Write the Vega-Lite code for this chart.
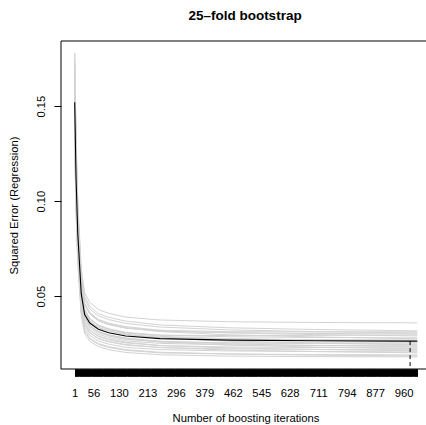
{
  "$schema": "https://vega.github.io/schema/vega-lite/v6.json",
  "autosize": {"type": "none"},
  "padding": {"left": 61, "top": 41, "right": 0, "bottom": 56},
  "width": 365,
  "height": 328,
  "title": {"text": "25–fold bootstrap", "font": "Liberation Sans", "fontSize": 13.5, "fontWeight": "bold", "color": "black", "anchor": "middle", "baseline": "alphabetic", "offset": 7, "dx": 1.5},
  "config": {
    "view": {"stroke": null},
    "axis": {"grid": false, "domain": false, "tickColor": "black", "labelColor": "black", "titleColor": "black", "labelFont": "Liberation Sans", "titleFont": "Liberation Sans", "labelFontSize": 11.25, "titleFontSize": 11.25, "titleFontWeight": "normal", "tickWidth": 1}
  },
  "resolve": {"axis": {"x": "independent"}},
  "datasets": {
    "cv": [
      {"it": 1, "mean": 0.1520, "b01": 0.1780, "b02": 0.1779, "b03": 0.1728, "b04": 0.1737, "b05": 0.1696, "b06": 0.1655, "b07": 0.1674, "b08": 0.1633, "b09": 0.1642, "b10": 0.1591, "b11": 0.1590, "b12": 0.1539, "b13": 0.1528, "b14": 0.1537, "b15": 0.1486, "b16": 0.1485, "b17": 0.1444, "b18": 0.1453, "b19": 0.1402, "b20": 0.1401, "b21": 0.1360, "b22": 0.1359, "b23": 0.1318, "b24": 0.1307, "b25": 0.1276},
      {"it": 5, "mean": 0.1117, "b01": 0.1325, "b02": 0.1317, "b03": 0.1271, "b04": 0.1285, "b05": 0.1249, "b06": 0.1213, "b07": 0.1237, "b08": 0.1200, "b09": 0.1214, "b10": 0.1168, "b11": 0.1170, "b12": 0.1124, "b13": 0.1118, "b14": 0.1132, "b15": 0.1086, "b16": 0.1090, "b17": 0.1054, "b18": 0.1068, "b19": 0.1022, "b20": 0.1027, "b21": 0.0990, "b22": 0.0995, "b23": 0.0957, "b24": 0.0951, "b25": 0.0925},
      {"it": 10, "mean": 0.0828, "b01": 0.0998, "b02": 0.0985, "b03": 0.0943, "b04": 0.0960, "b05": 0.0928, "b06": 0.0896, "b07": 0.0923, "b08": 0.0888, "b09": 0.0906, "b10": 0.0863, "b11": 0.0868, "b12": 0.0826, "b13": 0.0823, "b14": 0.0841, "b15": 0.0799, "b16": 0.0807, "b17": 0.0774, "b18": 0.0792, "b19": 0.0750, "b20": 0.0758, "b21": 0.0725, "b22": 0.0733, "b23": 0.0697, "b24": 0.0695, "b25": 0.0673},
      {"it": 20, "mean": 0.0514, "b01": 0.0642, "b02": 0.0625, "b03": 0.0586, "b04": 0.0607, "b05": 0.0579, "b06": 0.0551, "b07": 0.0582, "b08": 0.0550, "b09": 0.0572, "b10": 0.0533, "b11": 0.0540, "b12": 0.0502, "b13": 0.0503, "b14": 0.0525, "b15": 0.0487, "b16": 0.0499, "b17": 0.0470, "b18": 0.0491, "b19": 0.0453, "b20": 0.0465, "b21": 0.0436, "b22": 0.0448, "b23": 0.0415, "b24": 0.0417, "b25": 0.0398},
      {"it": 30, "mean": 0.0403, "b01": 0.0517, "b02": 0.0498, "b03": 0.0461, "b04": 0.0483, "b05": 0.0456, "b06": 0.0430, "b07": 0.0462, "b08": 0.0431, "b09": 0.0454, "b10": 0.0416, "b11": 0.0425, "b12": 0.0388, "b13": 0.0390, "b14": 0.0414, "b15": 0.0377, "b16": 0.0390, "b17": 0.0362, "b18": 0.0386, "b19": 0.0349, "b20": 0.0362, "b21": 0.0334, "b22": 0.0348, "b23": 0.0315, "b24": 0.0319, "b25": 0.0302},
      {"it": 45, "mean": 0.0358, "b01": 0.0466, "b02": 0.0446, "b03": 0.0409, "b04": 0.0432, "b05": 0.0406, "b06": 0.0380, "b07": 0.0413, "b08": 0.0382, "b09": 0.0406, "b10": 0.0369, "b11": 0.0378, "b12": 0.0341, "b13": 0.0344, "b14": 0.0368, "b15": 0.0332, "b16": 0.0346, "b17": 0.0319, "b18": 0.0342, "b19": 0.0306, "b20": 0.0320, "b21": 0.0293, "b22": 0.0307, "b23": 0.0275, "b24": 0.0279, "b25": 0.0262},
      {"it": 70, "mean": 0.0325, "b01": 0.0429, "b02": 0.0408, "b03": 0.0372, "b04": 0.0396, "b05": 0.0370, "b06": 0.0344, "b07": 0.0377, "b08": 0.0347, "b09": 0.0371, "b10": 0.0334, "b11": 0.0344, "b12": 0.0308, "b13": 0.0311, "b14": 0.0335, "b15": 0.0299, "b16": 0.0314, "b17": 0.0287, "b18": 0.0311, "b19": 0.0275, "b20": 0.0290, "b21": 0.0263, "b22": 0.0277, "b23": 0.0245, "b24": 0.0250, "b25": 0.0234},
      {"it": 100, "mean": 0.0307, "b01": 0.0409, "b02": 0.0388, "b03": 0.0352, "b04": 0.0376, "b05": 0.0350, "b06": 0.0325, "b07": 0.0358, "b08": 0.0328, "b09": 0.0352, "b10": 0.0316, "b11": 0.0325, "b12": 0.0290, "b13": 0.0293, "b14": 0.0318, "b15": 0.0282, "b16": 0.0296, "b17": 0.0270, "b18": 0.0294, "b19": 0.0259, "b20": 0.0273, "b21": 0.0247, "b22": 0.0261, "b23": 0.0230, "b24": 0.0234, "b25": 0.0218},
      {"it": 150, "mean": 0.0290, "b01": 0.0389, "b02": 0.0368, "b03": 0.0332, "b04": 0.0356, "b05": 0.0331, "b06": 0.0305, "b07": 0.0339, "b08": 0.0309, "b09": 0.0333, "b10": 0.0297, "b11": 0.0307, "b12": 0.0272, "b13": 0.0275, "b14": 0.0300, "b15": 0.0264, "b16": 0.0279, "b17": 0.0253, "b18": 0.0277, "b19": 0.0242, "b20": 0.0257, "b21": 0.0230, "b22": 0.0245, "b23": 0.0214, "b24": 0.0218, "b25": 0.0203},
      {"it": 250, "mean": 0.0276, "b01": 0.0374, "b02": 0.0348, "b03": 0.0319, "b04": 0.0337, "b05": 0.0315, "b06": 0.0294, "b07": 0.0320, "b08": 0.0294, "b09": 0.0313, "b10": 0.0283, "b11": 0.0288, "b12": 0.0259, "b13": 0.0261, "b14": 0.0280, "b15": 0.0251, "b16": 0.0262, "b17": 0.0239, "b18": 0.0258, "b19": 0.0229, "b20": 0.0240, "b21": 0.0218, "b22": 0.0229, "b23": 0.0201, "b24": 0.0204, "b25": 0.0191},
      {"it": 450, "mean": 0.0268, "b01": 0.0365, "b02": 0.0333, "b03": 0.0313, "b04": 0.0322, "b05": 0.0307, "b06": 0.0292, "b07": 0.0306, "b08": 0.0286, "b09": 0.0296, "b10": 0.0275, "b11": 0.0275, "b12": 0.0254, "b13": 0.0253, "b14": 0.0263, "b15": 0.0243, "b16": 0.0248, "b17": 0.0232, "b18": 0.0242, "b19": 0.0222, "b20": 0.0227, "b21": 0.0211, "b22": 0.0216, "b23": 0.0195, "b24": 0.0195, "b25": 0.0184},
      {"it": 700, "mean": 0.0265, "b01": 0.0361, "b02": 0.0324, "b03": 0.0311, "b04": 0.0313, "b05": 0.0303, "b06": 0.0293, "b07": 0.0297, "b08": 0.0282, "b09": 0.0285, "b10": 0.0271, "b11": 0.0266, "b12": 0.0253, "b13": 0.0250, "b14": 0.0253, "b15": 0.0240, "b16": 0.0240, "b17": 0.0229, "b18": 0.0232, "b19": 0.0219, "b20": 0.0219, "b21": 0.0208, "b22": 0.0208, "b23": 0.0192, "b24": 0.0189, "b25": 0.0181},
      {"it": 1000, "mean": 0.0263, "b01": 0.0359, "b02": 0.0317, "b03": 0.0312, "b04": 0.0306, "b05": 0.0301, "b06": 0.0296, "b07": 0.0290, "b08": 0.0280, "b09": 0.0275, "b10": 0.0269, "b11": 0.0259, "b12": 0.0254, "b13": 0.0248, "b14": 0.0243, "b15": 0.0238, "b16": 0.0233, "b17": 0.0227, "b18": 0.0222, "b19": 0.0217, "b20": 0.0212, "b21": 0.0206, "b22": 0.0201, "b23": 0.0190, "b24": 0.0185, "b25": 0.0180}
    ],
    "opt": [{"mstop": 979, "risk": 0.0263}]
  },
  "layer": [
    {
      "data": {"name": "cv"},
      "transform": [{"fold": ["b01","b02","b03","b04","b05","b06","b07","b08","b09","b10","b11","b12","b13","b14","b15","b16","b17","b18","b19","b20","b21","b22","b23","b24","b25"], "as": ["fold", "risk"]}],
      "mark": {"type": "line", "color": "#d3d3d3", "strokeWidth": 1},
      "encoding": {
        "x": {"field": "it", "type": "quantitative", "scale": {"domain": [-38.96, 1025.37], "nice": false, "zero": false},
          "axis": {"orient": "bottom", "tickSize": 7, "labelPadding": 11, "labelOverlap": false, "labelFlush": false, "labelBound": false,
            "labelExpr": "indexof([1,56,130,213,296,379,462,545,628,711,794,877,960], datum.value) >= 0 ? datum.label : ''",
            "title": "Number of boosting iterations", "titleX": 184.5, "titleY": 52, "titleBaseline": "alphabetic",
            "values": [1,2,3,4,5,6,7,8,9,10,11,12,13,14,15,16,17,18,19,20,21,22,23,24,25,26,27,28,29,30,31,32,33,34,35,36,37,38,39,40,41,42,43,44,45,46,47,48,49,50,51,52,53,54,55,56,57,58,59,60,61,62,63,64,65,66,67,68,69,70,71,72,73,74,75,76,77,78,79,80,81,82,83,84,85,86,87,88,89,90,91,92,93,94,95,96,97,98,99,100,101,102,103,104,105,106,107,108,109,110,111,112,113,114,115,116,117,118,119,120,121,122,123,124,125,126,127,128,129,130,131,132,133,134,135,136,137,138,139,140,141,142,143,144,145,146,147,148,149,150,151,152,153,154,155,156,157,158,159,160,161,162,163,164,165,166,167,168,169,170,171,172,173,174,175,176,177,178,179,180,181,182,183,184,185,186,187,188,189,190,191,192,193,194,195,196,197,198,199,200,201,202,203,204,205,206,207,208,209,210,211,212,213,214,215,216,217,218,219,220,221,222,223,224,225,226,227,228,229,230,231,232,233,234,235,236,237,238,239,240,241,242,243,244,245,246,247,248,249,250,251,252,253,254,255,256,257,258,259,260,261,262,263,264,265,266,267,268,269,270,271,272,273,274,275,276,277,278,279,280,281,282,283,284,285,286,287,288,289,290,291,292,293,294,295,296,297,298,299,300,301,302,303,304,305,306,307,308,309,310,311,312,313,314,315,316,317,318,319,320,321,322,323,324,325,326,327,328,329,330,331,332,333,334,335,336,337,338,339,340,341,342,343,344,345,346,347,348,349,350,351,352,353,354,355,356,357,358,359,360,361,362,363,364,365,366,367,368,369,370,371,372,373,374,375,376,377,378,379,380,381,382,383,384,385,386,387,388,389,390,391,392,393,394,395,396,397,398,399,400,401,402,403,404,405,406,407,408,409,410,411,412,413,414,415,416,417,418,419,420,421,422,423,424,425,426,427,428,429,430,431,432,433,434,435,436,437,438,439,440,441,442,443,444,445,446,447,448,449,450,451,452,453,454,455,456,457,458,459,460,461,462,463,464,465,466,467,468,469,470,471,472,473,474,475,476,477,478,479,480,481,482,483,484,485,486,487,488,489,490,491,492,493,494,495,496,497,498,499,500,501,502,503,504,505,506,507,508,509,510,511,512,513,514,515,516,517,518,519,520,521,522,523,524,525,526,527,528,529,530,531,532,533,534,535,536,537,538,539,540,541,542,543,544,545,546,547,548,549,550,551,552,553,554,555,556,557,558,559,560,561,562,563,564,565,566,567,568,569,570,571,572,573,574,575,576,577,578,579,580,581,582,583,584,585,586,587,588,589,590,591,592,593,594,595,596,597,598,599,600,601,602,603,604,605,606,607,608,609,610,611,612,613,614,615,616,617,618,619,620,621,622,623,624,625,626,627,628,629,630,631,632,633,634,635,636,637,638,639,640,641,642,643,644,645,646,647,648,649,650,651,652,653,654,655,656,657,658,659,660,661,662,663,664,665,666,667,668,669,670,671,672,673,674,675,676,677,678,679,680,681,682,683,684,685,686,687,688,689,690,691,692,693,694,695,696,697,698,699,700,701,702,703,704,705,706,707,708,709,710,711,712,713,714,715,716,717,718,719,720,721,722,723,724,725,726,727,728,729,730,731,732,733,734,735,736,737,738,739,740,741,742,743,744,745,746,747,748,749,750,751,752,753,754,755,756,757,758,759,760,761,762,763,764,765,766,767,768,769,770,771,772,773,774,775,776,777,778,779,780,781,782,783,784,785,786,787,788,789,790,791,792,793,794,795,796,797,798,799,800,801,802,803,804,805,806,807,808,809,810,811,812,813,814,815,816,817,818,819,820,821,822,823,824,825,826,827,828,829,830,831,832,833,834,835,836,837,838,839,840,841,842,843,844,845,846,847,848,849,850,851,852,853,854,855,856,857,858,859,860,861,862,863,864,865,866,867,868,869,870,871,872,873,874,875,876,877,878,879,880,881,882,883,884,885,886,887,888,889,890,891,892,893,894,895,896,897,898,899,900,901,902,903,904,905,906,907,908,909,910,911,912,913,914,915,916,917,918,919,920,921,922,923,924,925,926,927,928,929,930,931,932,933,934,935,936,937,938,939,940,941,942,943,944,945,946,947,948,949,950,951,952,953,954,955,956,957,958,959,960,961,962,963,964,965,966,967,968,969,970,971,972,973,974,975,976,977,978,979,980,981,982,983,984,985,986,987,988,989,990,991,992,993,994,995,996,997,998,999,1000]}},
        "y": {"field": "risk", "type": "quantitative", "scale": {"domain": [0.0116, 0.1843], "nice": false, "zero": false},
          "axis": {"values": [0.05, 0.1, 0.15], "format": ".2f", "tickSize": 7, "labelAngle": 270, "labelAlign": "center", "labelBaseline": "alphabetic", "labelPadding": 10, "title": "Squared Error (Regression)", "titleAngle": 270, "titleAlign": "center", "titleBaseline": "alphabetic", "titleX": -44, "titleY": 164}},
        "detail": {"field": "fold", "type": "nominal"}
      }
    },
    {
      "data": {"name": "cv"},
      "mark": {"type": "line", "color": "black", "strokeWidth": 1.1},
      "encoding": {
        "x": {"field": "it", "type": "quantitative", "axis": null},
        "y": {"field": "mean", "type": "quantitative",
          "axis": {"values": [0.05, 0.1, 0.15], "format": ".2f", "tickSize": 7, "labelAngle": 270, "labelAlign": "center", "labelBaseline": "alphabetic", "labelPadding": 10, "title": "Squared Error (Regression)", "titleAngle": 270, "titleAlign": "center", "titleBaseline": "alphabetic", "titleX": -44, "titleY": 164}}
      }
    },
    {
      "data": {"name": "opt"},
      "mark": {"type": "rule", "color": "black", "strokeWidth": 1, "strokeDash": [4, 3]},
      "encoding": {
        "x": {"field": "mstop", "type": "quantitative", "axis": null},
        "y": {"field": "risk", "type": "quantitative",
          "axis": {"values": [0.05, 0.1, 0.15], "format": ".2f", "tickSize": 7, "labelAngle": 270, "labelAlign": "center", "labelBaseline": "alphabetic", "labelPadding": 10, "title": "Squared Error (Regression)", "titleAngle": 270, "titleAlign": "center", "titleBaseline": "alphabetic", "titleX": -44, "titleY": 164}},
        "y2": {"datum": 0.0116}
      }
    },
    {
      "data": {"values": [{}]},
      "mark": {"type": "rect", "filled": false, "stroke": "black", "strokeWidth": 1},
      "encoding": {
        "x": {"datum": -38.96, "type": "quantitative", "axis": null},
        "x2": {"datum": 1039.96},
        "y": {"datum": 0.0116, "type": "quantitative",
          "axis": {"values": [0.05, 0.1, 0.15], "format": ".2f", "tickSize": 7, "labelAngle": 270, "labelAlign": "center", "labelBaseline": "alphabetic", "labelPadding": 10, "title": "Squared Error (Regression)", "titleAngle": 270, "titleAlign": "center", "titleBaseline": "alphabetic", "titleX": -44, "titleY": 164}},
        "y2": {"datum": 0.1843}
      }
    }
  ]
}
